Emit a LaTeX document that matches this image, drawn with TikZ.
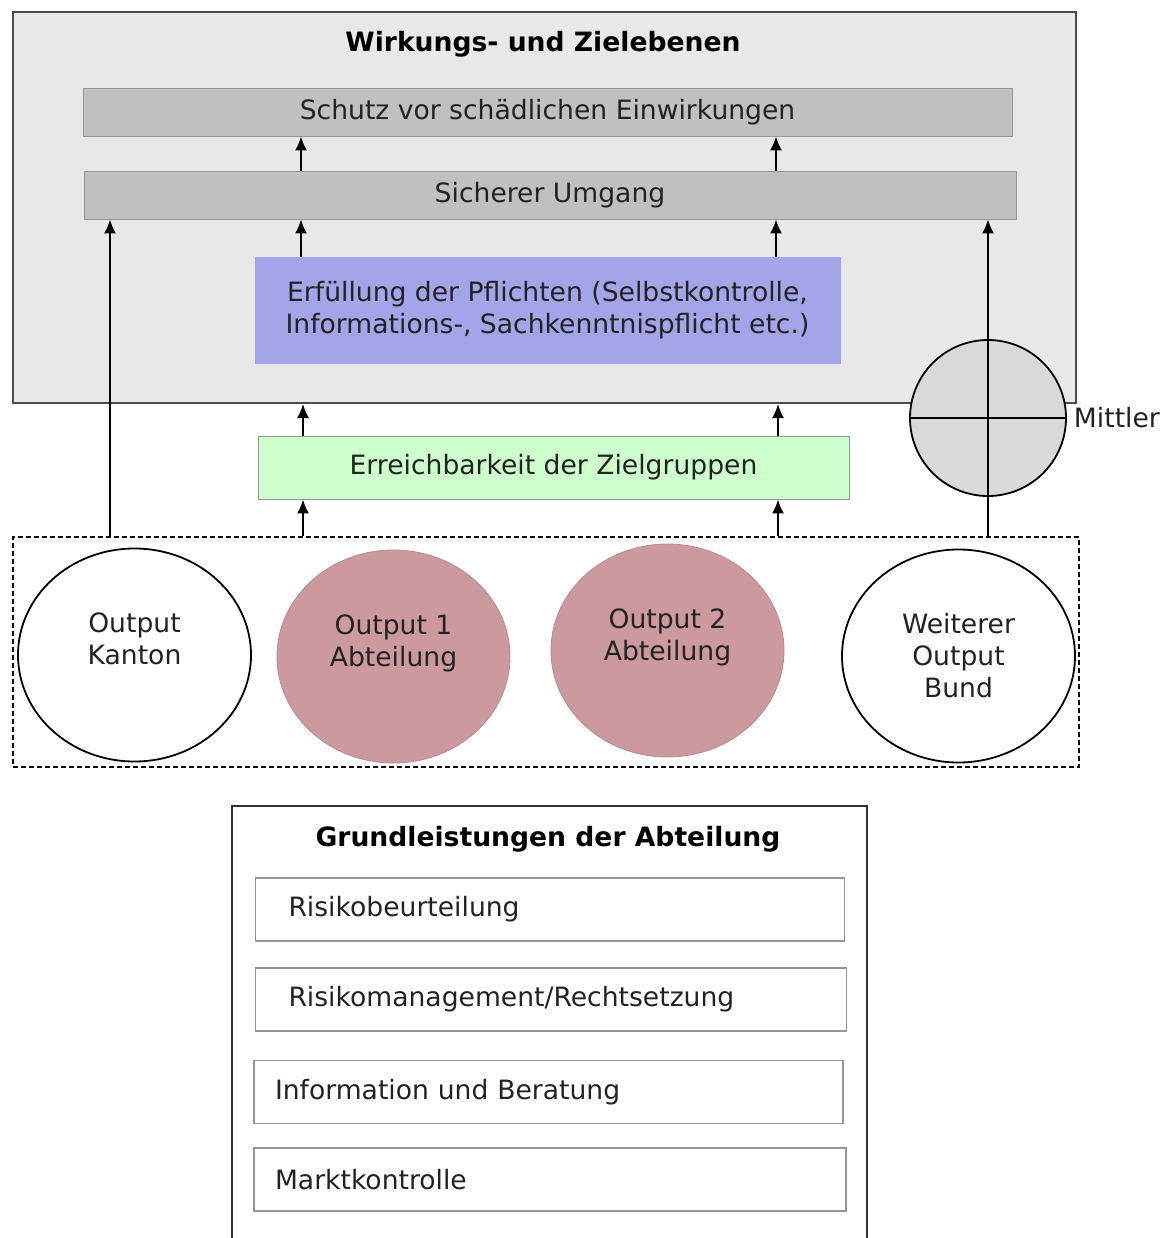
\documentclass[tikz,border=0pt]{standalone}
\usepackage{fontspec}
\setmainfont{DejaVu Sans}
\usepackage{tikz}
\usetikzlibrary{shapes.geometric, arrows, arrows.meta, positioning, calc}
\definecolor{panelgray}{RGB}{232,232,232}
\definecolor{levelgray}{RGB}{192,192,192}
\definecolor{lavender}{RGB}{164,164,232}
\definecolor{palegreen}{RGB}{204,255,204}
\definecolor{mittlergray}{RGB}{217,217,217}
\definecolor{rosebrown}{RGB}{204,153,158}
\definecolor{edgegray}{RGB}{150,150,150}
\definecolor{textgray}{RGB}{34,34,34}

\begin{document}
\begin{tikzpicture}[x=0.5pt, y=-0.5pt, font=\fontsize{13.3}{16}\selectfont, text=textgray,
  levelbox/.style={draw=edgegray, fill=levelgray, minimum width=#1, minimum height=24pt, inner sep=0pt},
  outputell/.style={ellipse, draw=black, line width=0.9pt, minimum width=116.5pt, minimum height=106.5pt, inner sep=0pt, align=center},
  taskbox/.style={draw=edgegray, line width=0.6pt, minimum height=31.5pt, align=left},
  arr/.style={-{Latex[length=7pt,width=6pt]}, line width=0.9pt, black}]
\useasboundingbox (0,0) rectangle (1162,1238);

% Outer panel with the levels
\node[draw=black!70, line width=1pt, fill=panelgray, minimum width=531.5pt, minimum height=195.5pt, inner sep=0pt] (wirkung) at (544.5,207.5) {};
\node[font=\fontsize{13.3}{16}\selectfont\bfseries, text=black] (wirktitle) at (543,44) {Wirkungs- und Zielebenen};

% Levels
\node[levelbox=464.5pt] (schutz) at (547.5,112) {Schutz vor schädlichen Einwirkungen};
\node[levelbox=466pt] (sicher) at (550,195) {Sicherer Umgang};

% Duties
\node[draw=lavender, fill=lavender, minimum width=292.5pt, minimum height=53pt, align=center, inner sep=0pt] (pflicht) at (547.5,310) {Erfüllung der Pflichten (Selbstkontrolle,\\Informations-, Sachkenntnispflicht etc.)};

% Target groups
\node[draw=edgegray, fill=palegreen, minimum width=295.5pt, minimum height=31.5pt, inner sep=0pt] (erreich) at (553.5,467.5) {Erreichbarkeit der Zielgruppen};

% Mittler
\node[circle, draw=black, line width=0.9pt, fill=mittlergray, minimum size=78pt, inner sep=0pt] (mittler) at (988,418) {};
\draw[line width=0.9pt] (mittler.west) -- (mittler.east);
\node[right=0pt of mittler] (mittlerlbl) {Mittler};

% Outputs
\node[draw=black, line width=0.7pt, dash pattern=on 2.5pt off 1.5pt, minimum width=533pt, minimum height=115pt, inner sep=0pt] (outputs) at (546,652) {};
\node[outputell] (kanton) at (134.5,655) {Output\\Kanton\\\mbox{}};
\node[outputell, draw=rosebrown!90!black, line width=0.4pt, fill=rosebrown] (abt1) at (393.5,656.5) {Output 1\\Abteilung\\\mbox{}};
\node[outputell, draw=rosebrown!90!black, line width=0.4pt, fill=rosebrown] (abt2) at (667.5,650.5) {Output 2\\Abteilung\\\mbox{}};
\node[outputell] (bund) at (958.5,656) {Weiterer\\Output\\Bund};

% Arrow columns
\coordinate (colA) at (301,0);
\coordinate (colB) at (776,0);
\coordinate (colC) at (303,0);
\coordinate (colD) at (778,0);
\coordinate (colL) at (110,0);

% Arrows
\draw[arr] (sicher.north -| colA) -- (schutz.south -| colA);
\draw[arr] (sicher.north -| colB) -- (schutz.south -| colB);
\draw[arr] (pflicht.north -| colA) -- (sicher.south -| colA);
\draw[arr] (pflicht.north -| colB) -- (sicher.south -| colB);
\draw[arr] (erreich.north -| colC) -- (wirkung.south -| colC);
\draw[arr] (erreich.north -| colD) -- (wirkung.south -| colD);
\draw[arr] (outputs.north -| colC) -- (erreich.south -| colC);
\draw[arr] (outputs.north -| colD) -- (erreich.south -| colD);
\draw[arr] (outputs.north -| colL) -- (sicher.south -| colL);
\draw[arr] (outputs.north -| mittler) -- (sicher.south -| mittler);

% Basic services
\node[draw=black!80, line width=0.9pt, minimum width=317.5pt, minimum height=227pt, inner sep=0pt] (grund) at (549.5,1033) {};
\node[font=\fontsize{13.3}{16}\selectfont\bfseries, text=black] (grundtitle) at (548,839) {Grundleistungen der Abteilung};
\node[taskbox, inner xsep=16.5pt, text width=261.5pt] (risiko) at (550,909.5) {Risikobeurteilung};
\node[taskbox, inner xsep=16.5pt, text width=262.5pt] (recht) at (551,999.5) {Risikomanagement/Rechtsetzung};
\node[taskbox, inner xsep=10.5pt, text width=273.5pt] (info) at (548.5,1092) {Information und Beratung};
\node[taskbox, inner xsep=10.5pt, text width=275pt] (markt) at (550,1179.5) {Marktkontrolle};
\end{tikzpicture}
\end{document}
